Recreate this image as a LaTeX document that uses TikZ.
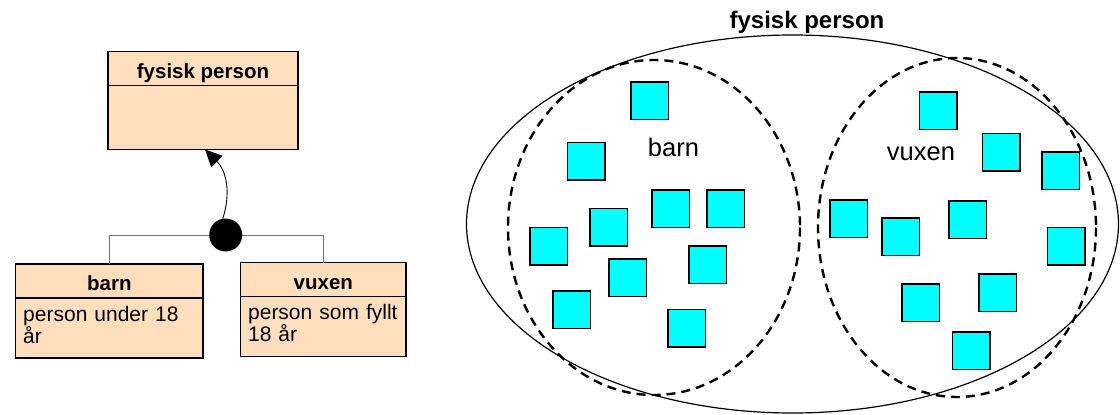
\documentclass[tikz,border=0pt]{standalone}
\usepackage{fontspec}
\setmainfont{Liberation Sans}
\usepackage{tikz}
\usetikzlibrary{arrows.meta,positioning}
\definecolor{klassfarg}{RGB}{255,222,189}
\definecolor{objektfarg}{RGB}{0,255,255}

\begin{document}
\begin{tikzpicture}[x=1pt,y=-1pt,
  kopf/.style={draw,line width=1.2pt,fill=klassfarg,inner sep=0pt,outer sep=0pt,minimum height=34pt,
    font=\fontsize{20.5}{21}\selectfont\bfseries,text height=20pt,text depth=1pt},
  rumpf/.style={draw,line width=1.2pt,fill=klassfarg,inner xsep=7.5pt,inner ysep=0pt,outer sep=0pt,minimum height=60pt,
    align=left,font=\fontsize{21}{21}\selectfont,text height=15pt,text depth=29pt},
  linje/.style={line width=0.9pt,black!55},
  streckad/.style={line width=2.4pt,dash pattern=on 9pt off 6pt},
  ruta/.style={draw,line width=1.5pt,fill=objektfarg,minimum size=37.5pt,inner sep=0pt}]
%Alles in Pixeln: x nach rechts, y nach unten (x=1pt, y=-1pt)
%Breite der Klassenkaesten, Textbreite = Breite - 2*7.5
  \pgfmathsetmacro{\bFysisk}{190}
  \pgfmathsetmacro{\bBarn}{187.3}
  \pgfmathsetmacro{\bVuxen}{165.3}
\useasboundingbox (0,0) rectangle (1120,415);
%linke Seite: Klassendiagramm
\node[kopf,minimum width=\bFysisk] (fysisk) at (203,68.5) {fysisk person};
\node[rumpf,minimum width=\bFysisk,minimum height=64pt,text width=\bFysisk-15] (fysiskb) [below=0pt of fysisk] {};
\node[kopf,minimum width=\bBarn] (barn) at (109.4,281) {barn};
\node[rumpf,minimum width=\bBarn,text width=\bBarn-15] (barnb) [below=0pt of barn] {person under 18\\år};
\node[kopf,minimum width=\bVuxen] (vuxen) at (323.3,279.7) {vuxen};
\node[rumpf,minimum width=\bVuxen,text width=\bVuxen-15] (vuxenb) [below=0pt of vuxen] {person som fyllt\\18 år};
\node[circle,fill=black,minimum size=33pt,inner sep=0pt] (punkt) at (225.7,235) {};
\draw[linje] (punkt.west) -| (barn.north);
\draw[linje] (punkt.east) -| (vuxen.north);
\draw[line width=0.9pt,-{Triangle[length=17pt,width=16pt]}] (punkt.100) .. controls +(8,-25) and +(22,22) .. ([xshift=2pt]fysiskb.south);
%rechte Seite: Mengen
\node[font=\fontsize{24}{24}\selectfont\bfseries,anchor=base] (menge) at (807,28.5) {fysisk person};
\draw[line width=1.2pt] (792.5,224) ellipse [x radius=326, y radius=189];
\draw[streckad] (654,227.5) ellipse [x radius=146, y radius=167.5];
\draw[streckad] (957,227.5) ellipse [x radius=139, y radius=169.5];
\foreach \x/\y [count=\i] in {649.5/100.7,586.3/161.3,670.5/208.7,725.8/208.7,608.8/227.2,
                              548.5/246.2,707.5/264.8,627.5/277.8,571.5/309.5,686.7/328.2}{
\node[ruta] (b\i) at (\x,\y) {};
}
\foreach \x/\y [count=\i] in {938/110.5,1001.2/152,1060.7/170.8,848.7/218.8,967.8/219.8,
                              900.8/236.8,1066.3/246.2,997.5/292.8,920.5/302.5,971.3/350.8}{
\node[ruta] (v\i) at (\x,\y) {};
}
\node[font=\fontsize{25.5}{26}\selectfont,anchor=base] (barnmenge) at (673.5,156) {barn};
\node[font=\fontsize{25.5}{26}\selectfont,anchor=base] (vuxenmenge) at (921,160) {vuxen};
\end{tikzpicture}
\end{document}
